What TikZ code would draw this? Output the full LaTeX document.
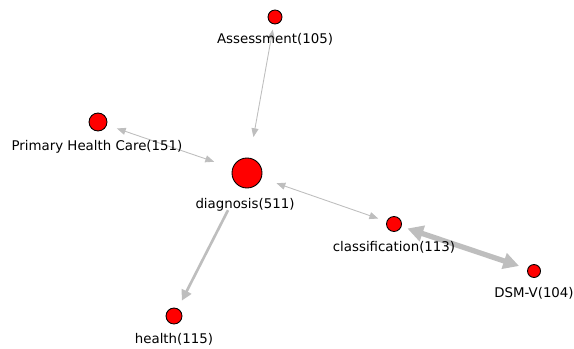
\documentclass[tikz,border=0pt]{standalone}
\usepackage{fontspec}
\setmainfont{DejaVu Sans}
\usepackage{tikz}
\usetikzlibrary{arrows.meta, positioning}

\definecolor{edgegray}{RGB}{190,190,190}

\begin{document}
\begin{tikzpicture}[
    x=0.02cm, y=-0.02cm,
    term/.style={circle, draw=black, line width=0.5pt, fill=red, inner sep=0pt},
    lbl/.style={inner sep=0pt, font=\fontsize{7.6}{9}\selectfont},
    link/.style={draw=edgegray, line width=0.5pt, {Triangle[length=5pt,width=4pt]}-{Triangle[length=5pt,width=4pt]}, shorten <=4pt, shorten >=4pt}
]
    \useasboundingbox (0,0) rectangle (574,348);

    \node[term, minimum size=0.28cm] (assess) at (275,17) {};
    \node[term, minimum size=0.36cm] (phc) at (98,122) {};
    \node[term, minimum size=0.60cm] (diag) at (247,173) {};
    \node[term, minimum size=0.30cm] (classif) at (394,224) {};
    \node[term, minimum size=0.26cm] (dsm) at (534,271) {};
    \node[term, minimum size=0.32cm] (health) at (174,316) {};

    \draw[link, shorten <=3pt, shorten >=12pt] (assess) -- (diag);
    \draw[link, shorten <=6pt, shorten >=11pt] (phc) -- (diag);
    \draw[link, shorten <=9pt, shorten >=5pt] (diag) -- (classif);
    \draw[link, line width=3pt, {Triangle[length=9pt,width=9pt]}-{Triangle[length=9pt,width=9pt]}, shorten <=3.5pt, shorten >=5pt] (classif) -- (dsm);
    \draw[draw=edgegray, line width=1.5pt, -{Triangle[length=6pt,width=6pt]}, shorten <=15pt, shorten >=5pt] (diag) -- (health);

    \node[lbl, below=0.18cm of assess] (assesslbl) {Assessment(105)};
    \node[lbl, below=0.18cm of phc, xshift=-0.02cm] (phclbl) {Primary Health Care(151)};
    \node[lbl, below=0.2cm of diag, xshift=-0.04cm] (diaglbl) {diagnosis(511)};
    \node[lbl, below=0.18cm of classif] (classiflbl) {classification(113)};
    \node[lbl, below=0.18cm of dsm] (dsmlbl) {DSM-V(104)};
    \node[lbl, below=0.18cm of health] (healthlbl) {health(115)};
\end{tikzpicture}
\end{document}
